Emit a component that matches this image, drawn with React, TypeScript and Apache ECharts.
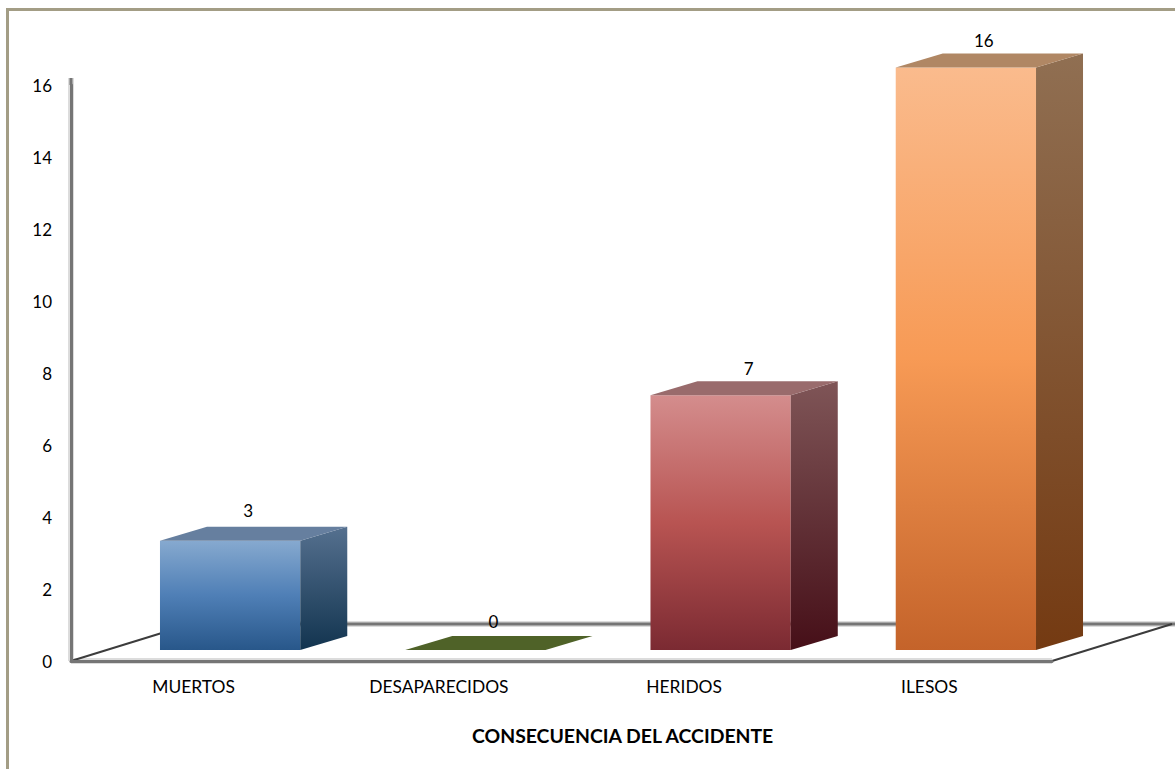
import React, { useEffect, useRef } from "react";
import * as echarts from "echarts";

const categories = ["MUERTOS", "DESAPARECIDOS", "HERIDOS", "ILESOS"];
const values = [3, 0, 7, 16];
const yTicks = { min: 0, max: 16, interval: 2 };
const axisTitle = "CONSECUENCIA DEL ACCIDENTE";

const frontStops = [
  ["#86a9cf", "#4f7fb6", "#28578a"],
  ["#4f6228", "#4f6228", "#4f6228"],
  ["#d48d8d", "#b85452", "#7b2a32"],
  ["#fabb8d", "#f79a55", "#c4632a"],
];
const sideStops = [
  ["#55708f", "#12344f"],
  ["#4f6228", "#4f6228"],
  ["#7f5557", "#460f18"],
  ["#906f52", "#743a12"],
];
const topColors = ["#667f9f", "#4f6228", "#996b6c", "#b08764"];
const labelNudgeX = [0, 0, 10, 0];
const labelNudgeY = [-3, -1, 0, 0];

const FONT = "Lato, Carlito, 'Open Sans', sans-serif";
const DEPTH_X = 47;
const DEPTH_Y = 14;
const FLOOR_X = 120;
const FLOOR_Y = 37;
const BASE_LIFT = 11;
const AXIS_GRAY = "#757575";
const HALO = "#dcdcdc";

function vGrad(stops: string[]) {
  return new echarts.graphic.LinearGradient(
    0,
    0,
    0,
    1,
    stops.map((c, i) => ({ offset: i / (stops.length - 1), color: c }))
  );
}

function hLine(x1: number, y1: number, x2: number, y2: number, stroke: string, lineWidth: number) {
  return { type: "line", shape: { x1, y1, x2, y2 }, style: { stroke, lineWidth } };
}

export default function App() {
  const ref = useRef<HTMLDivElement>(null);
  useEffect(() => {
    const chart = echarts.init(ref.current!, null, { renderer: "svg" });
    chart.setOption({
      animation: false,
      backgroundColor: "#ffffff",
      title: {
        text: axisTitle,
        left: 472,
        top: 726,
        padding: 0,
        textStyle: { fontFamily: FONT, fontSize: 19.4, fontWeight: "bold", color: "#000" },
      },
      grid: { left: 71, top: 85, width: 981, height: 576 },
      xAxis: {
        type: "category",
        data: categories,
        z: 2,
        axisTick: { show: false },
        axisLine: { lineStyle: { color: AXIS_GRAY, width: 3 } },
        axisLabel: { fontFamily: FONT, fontSize: 17.4, color: "#000", margin: 17 },
      },
      yAxis: {
        type: "value",
        min: yTicks.min,
        max: yTicks.max,
        interval: yTicks.interval,
        z: 2,
        splitLine: { show: false },
        axisTick: { show: false },
        axisLine: { show: true, lineStyle: { color: AXIS_GRAY, width: 3 } },
        axisLabel: { fontFamily: FONT, fontSize: 17, color: "#000", margin: 19 },
      },
      graphic: [
        { type: "rect", silent: true, shape: { x: 6, y: 8, width: 3, height: 761 }, style: { fill: "#a39d85" } },
        { type: "rect", silent: true, shape: { x: 6, y: 8, width: 1169, height: 3 }, style: { fill: "#a39d85" } },
      ],
      series: [
        {
          type: "custom",
          z: 1,
          silent: true,
          clip: false,
          data: [[0, 0]],
          encode: { x: 0, y: 1 },
          renderItem: (params: any) => {
            const cs = params.coordSys;
            const L = cs.x;
            const B = cs.y + cs.height;
            const R = cs.x + cs.width;
            const backY = B - FLOOR_Y;
            return {
              type: "group",
              children: [
                hLine(L, cs.y - 7, L, B, HALO, 6),
                hLine(L, B, R, B, HALO, 6),
                hLine(L + FLOOR_X, backY, R + FLOOR_X + 3, backY, HALO, 6),
                hLine(L, cs.y - 7, L, cs.y, AXIS_GRAY, 3),
                hLine(L + FLOOR_X, backY, R + FLOOR_X + 3, backY, AXIS_GRAY, 3),
                hLine(L, B, L + FLOOR_X, backY, "#3c3c3c", 2),
                hLine(R, B, R + FLOOR_X, backY, "#3c3c3c", 2),
              ],
            };
          },
        },
        {
          type: "custom",
          z: 3,
          clip: false,
          data: values.map((v, i) => [i, v]),
          encode: { x: 0, y: 1 },
          renderItem: (params: any, api: any) => {
            const i = api.value(0);
            const v = api.value(1);
            const band = api.size([1, 0])[0];
            const [cx, y0] = api.coord([i, 0]);
            const unit = api.size([0, 1])[1];
            const halfW = band * 0.286;
            const fc = cx + 36.5;
            const base = y0 - BASE_LIFT;
            const top = base - (v * unit * 36.4) / 36;
            const l = fc - halfW;
            const r = fc + halfW;
            const children: any[] = [];
            if (v > 0) {
              children.push({
                type: "polygon",
                shape: { points: [[l, top], [r, top], [r, base], [l, base]] },
                style: { fill: vGrad(frontStops[i]) },
              });
              children.push({
                type: "polygon",
                shape: { points: [[r, top], [r + DEPTH_X, top - DEPTH_Y], [r + DEPTH_X, base - DEPTH_Y], [r, base]] },
                style: { fill: vGrad(sideStops[i]) },
              });
            }
            children.push({
              type: "polygon",
              shape: { points: [[l, top], [l + DEPTH_X, top - DEPTH_Y], [r + DEPTH_X, top - DEPTH_Y], [r, top]] },
              style: { fill: topColors[i] },
            });
            children.push({
              type: "text",
              z2: 10,
              style: {
                x: fc + 18 + labelNudgeX[i],
                y: top - 27 + labelNudgeY[i] - (v === 0 ? 1 : 0),
                text: String(v),
                fill: "#000",
                font: `17px ${FONT}`,
                align: "center",
                verticalAlign: "middle",
              },
            });
            return { type: "group", children };
          },
        },
      ],
    });
    return () => chart.dispose();
  }, []);
  return <div ref={ref} style={{ position: "fixed", left: 0, top: 0, width: 1175, height: 769 }} />;
}
